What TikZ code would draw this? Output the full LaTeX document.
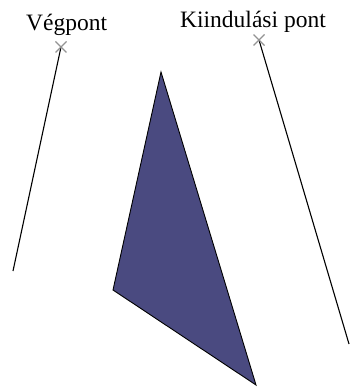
\documentclass[tikz,border=0pt]{standalone}
\usepackage{fontspec}
\setmainfont{Liberation Serif}
\begin{document}
\begin{tikzpicture}[x=1pt,y=-1pt,
  lbl/.style={inner sep=0pt,anchor=base west,font=\fontsize{23.5}{26}\selectfont},
  ray/.style={draw=black,line width=1.1pt},
  crossmark/.style={draw=gray!85,line width=1.2pt}]
\useasboundingbox (0,0) rectangle (349,387);
% labels
\node[lbl] (veg) at (26,31) {Végpont};
\node[lbl] (kii) at (180,28) {Kiindulási pont};
% cross points
\coordinate (ve) at (61,47);
\coordinate (ki) at (259,40);
\coordinate (veend) at (13,271);
\coordinate (kiend) at (349,344);
\draw[ray] (ve) -- (veend);
\draw[ray] (ki) -- (kiend);
\foreach \c in {ve,ki}{
  \draw[crossmark] ([shift={(-5.5,-5.5)}]\c) -- ([shift={(5.5,5.5)}]\c);
  \draw[crossmark] ([shift={(-5.5,5.5)}]\c) -- ([shift={(5.5,-5.5)}]\c);
}
% triangle
\definecolor{trifill}{RGB}{74,74,128}
\coordinate (ta) at (161,72);
\coordinate (tb) at (113,290);
\coordinate (tc) at (256,385);
\filldraw[fill=trifill,draw=black,line width=0.9pt,line join=miter] (ta) -- (tb) -- (tc) -- cycle;
\end{tikzpicture}
\end{document}
